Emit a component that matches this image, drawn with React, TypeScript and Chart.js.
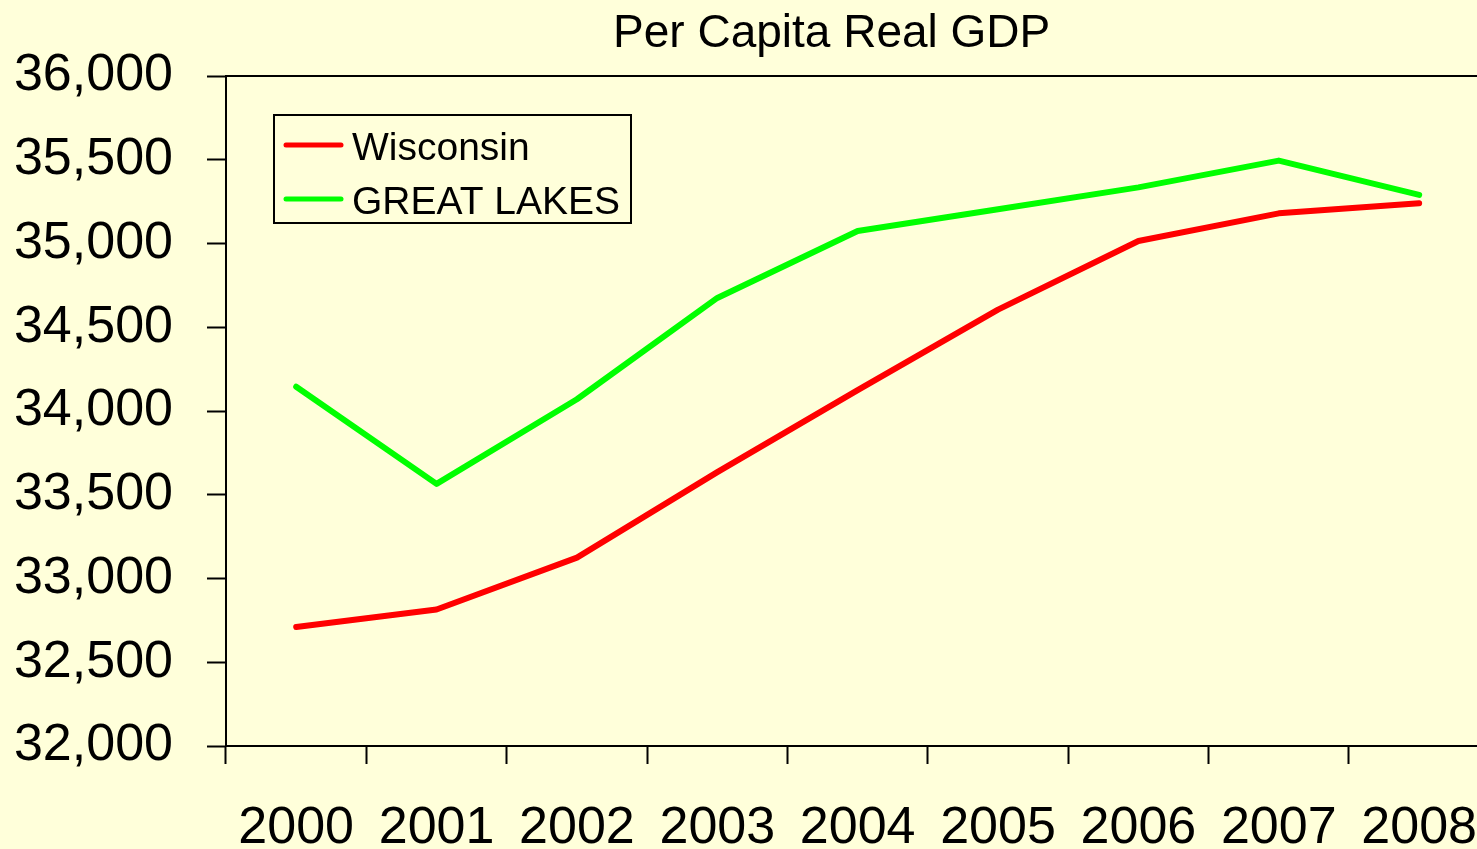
import React, { useEffect, useRef } from "react";
import { Chart, registerables } from "chart.js";

Chart.register(...registerables);

const years = ["2000", "2001", "2002", "2003", "2004", "2005", "2006", "2007", "2008"];
const wisconsin = [32710, 32815, 33125, 33635, 34125, 34605, 35015, 35180, 35240];
const greatLakes = [34145, 33565, 34070, 34675, 35075, 35205, 35335, 35495, 35290];
const seriesNames = ["Wisconsin", "GREAT LAKES"];
const seriesColors = ["#FF0000", "#00FF00"];
const chartTitle = "Per Capita Real GDP";
const yMin = 32000;
const yMax = 36000;
const yStep = 500;

const BG = "#FFFFDA";
const FONT = "'Liberation Sans', Arial, sans-serif";

const topBorderPlugin = {
  id: "topBorder",
  afterDraw(chart: any) {
    const { ctx, chartArea } = chart;
    ctx.save();
    ctx.strokeStyle = "#000";
    ctx.lineWidth = 2;
    ctx.beginPath();
    ctx.moveTo(chartArea.left, chartArea.top);
    ctx.lineTo(chartArea.right, chartArea.top);
    ctx.stroke();
    ctx.restore();
  },
};

const titlePlugin = {
  id: "offsetTitle",
  afterDraw(chart: any) {
    const { ctx, chartArea } = chart;
    ctx.save();
    ctx.font = `46px ${FONT}`;
    ctx.fillStyle = "#000";
    ctx.textAlign = "center";
    ctx.textBaseline = "middle";
    ctx.fillText(chartTitle, (chartArea.left + chartArea.right) / 2 - 26, chartArea.top - 42);
    ctx.restore();
  },
};

const insideLegendPlugin = {
  id: "insideLegend",
  afterDraw(chart: any) {
    const { ctx, chartArea } = chart;
    const x0 = chartArea.left + 48;
    const y0 = chartArea.top + 39;
    const w = 357;
    const h = 108;
    ctx.save();
    ctx.fillStyle = BG;
    ctx.fillRect(x0, y0, w, h);
    ctx.strokeStyle = "#000";
    ctx.lineWidth = 2;
    ctx.strokeRect(x0, y0, w, h);
    ctx.font = `39px ${FONT}`;
    ctx.textBaseline = "middle";
    ctx.textAlign = "left";
    chart.data.datasets.forEach((ds: any, i: number) => {
      const cy = y0 + 30 + i * 54;
      ctx.strokeStyle = ds.borderColor;
      ctx.lineWidth = 5;
      ctx.lineCap = "round";
      ctx.beginPath();
      ctx.moveTo(x0 + 12, cy);
      ctx.lineTo(x0 + 67, cy);
      ctx.stroke();
      ctx.fillStyle = "#000";
      ctx.fillText(ds.label, x0 + 78, cy + 4);
    });
    ctx.restore();
  },
};

export default function App() {
  const ref = useRef<HTMLCanvasElement>(null);

  useEffect(() => {
    document.body.style.margin = "0";
    document.body.style.overflow = "hidden";
    const canvas = ref.current!;
    const chart = new Chart(canvas, {
      type: "line",
      data: {
        labels: years,
        datasets: [
          {
            label: seriesNames[0],
            data: wisconsin,
            borderColor: seriesColors[0],
            backgroundColor: seriesColors[0],
            borderWidth: 6,
            pointRadius: 0,
            borderCapStyle: "round",
            borderJoinStyle: "round",
            tension: 0,
          },
          {
            label: seriesNames[1],
            data: greatLakes,
            borderColor: seriesColors[1],
            backgroundColor: seriesColors[1],
            borderWidth: 6,
            pointRadius: 0,
            borderCapStyle: "round",
            borderJoinStyle: "round",
            tension: 0,
          },
        ],
      },
      options: {
        responsive: false,
        animation: false,
        layout: { padding: { top: 76, left: 0, right: 0, bottom: 0 } },
        plugins: {
          legend: { display: false },
          tooltip: { enabled: false },
          title: { display: false },
        },
        scales: {
          x: {
            type: "category",
            offset: true,
            afterFit(scale: any) {
              scale.height = 103;
            },
            grid: {
              display: true,
              offset: true,
              drawOnChartArea: false,
              drawTicks: true,
              tickLength: 18,
              tickColor: "#000",
              tickWidth: 2,
            },
            border: { display: true, color: "#000", width: 2 },
            ticks: {
              color: "#000",
              font: { family: FONT, size: 52 },
              padding: 33,
              maxRotation: 0,
              autoSkip: false,
            },
          },
          y: {
            min: yMin,
            max: yMax,
            afterFit(scale: any) {
              scale.width = 226;
            },
            grid: {
              display: true,
              drawOnChartArea: false,
              drawTicks: true,
              tickLength: 19,
              tickColor: "#000",
              tickWidth: 2,
            },
            border: { display: true, color: "#000", width: 2 },
            ticks: {
              stepSize: yStep,
              color: "#000",
              font: { family: FONT, size: 52 },
              padding: 34,
              callback: (v: any) => Number(v).toLocaleString("en-US"),
            },
          },
        },
      },
      plugins: [topBorderPlugin, titlePlugin, insideLegendPlugin],
    });
    return () => chart.destroy();
  }, []);

  return (
    <div style={{ width: 1477, height: 849, overflow: "hidden", background: BG }}>
      <canvas ref={ref} width={1510} height={849} style={{ display: "block" }} />
    </div>
  );
}
